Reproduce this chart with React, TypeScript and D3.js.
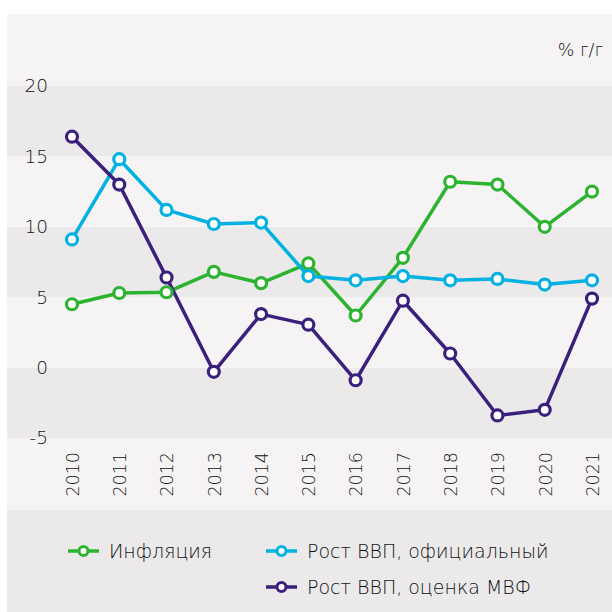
import { useEffect, useRef } from "react";
import * as d3 from "d3";

const years = ["2010", "2011", "2012", "2013", "2014", "2015", "2016", "2017", "2018", "2019", "2020", "2021"];
const inflation = [4.5, 5.3, 5.35, 6.8, 6.0, 7.4, 3.7, 7.8, 13.2, 13.0, 10.0, 12.5];
const gdpOfficial = [9.1, 14.8, 11.2, 10.2, 10.3, 6.5, 6.2, 6.5, 6.2, 6.3, 5.9, 6.2];
const gdpImf = [16.4, 13.0, 6.4, -0.3, 3.8, 3.05, -0.9, 4.75, 1.0, -3.4, -3.0, 4.9];
const yTicks = [-5, 0, 5, 10, 15, 20];

const series = [
  { name: "Инфляция", values: inflation, color: "#2cb431" },
  { name: "Рост ВВП, официальный", values: gdpOfficial, color: "#00b1e2" },
  { name: "Рост ВВП, оценка МВФ", values: gdpImf, color: "#3b1f7c" },
];

const font = "'DejaVu Sans', sans-serif";
const textColor = "#111111";
const weight = 200;

export default function App() {
  const ref = useRef<SVGSVGElement | null>(null);

  useEffect(() => {
    if (!ref.current) return;
    const svg = d3.select(ref.current);
    svg.selectAll("*").remove();

    const left = 7;
    const right = 612;
    const top = 14;

    const x = d3.scalePoint<string>().domain(years).range([72, 592]);
    const y = d3.scaleLinear().domain([-5, 20]).range([438, 86]);

    const light = "#f5f3f4";
    const dark = "#ebe9ea";

    // фон
    svg.append("rect").attr("x", left).attr("y", top).attr("width", right - left)
      .attr("height", y(20) - top).attr("fill", light);
    for (let i = 0; i < yTicks.length - 1; i++) {
      const lo = yTicks[i], hi = yTicks[i + 1];
      svg.append("rect").attr("x", left).attr("y", y(hi)).attr("width", right - left)
        .attr("height", y(lo) - y(hi)).attr("fill", i % 2 === 0 ? dark : light);
    }
    svg.append("rect").attr("x", left).attr("y", y(-5)).attr("width", right - left)
      .attr("height", 510 - y(-5)).attr("fill", light);
    svg.append("rect").attr("x", left).attr("y", 510).attr("width", right - left)
      .attr("height", 612 - 510).attr("fill", dark);

    // ось Y
    const yAxis = svg.append("g").attr("transform", "translate(48,0)")
      .call(d3.axisLeft(y).tickValues(yTicks).tickSize(0).tickPadding(0).tickFormat(d => String(d)));
    yAxis.select(".domain").remove();
    yAxis.selectAll("text").attr("font-family", font).attr("font-size", 18.5)
      .attr("font-weight", weight).attr("fill", textColor);

    // ось X
    const xAxis = svg.append("g").attr("transform", `translate(0,${y(-5)})`)
      .call(d3.axisBottom(x).tickSize(0));
    xAxis.select(".domain").remove();
    xAxis.selectAll("text")
      .attr("transform", "rotate(-90)")
      .attr("text-anchor", "end")
      .attr("x", -14)
      .attr("y", 0)
      .attr("dy", "0.36em")
      .attr("font-family", font).attr("font-size", 17.5)
      .attr("font-weight", weight)
      .attr("fill", textColor);

    svg.append("text").attr("x", 603).attr("y", 56).attr("text-anchor", "end")
      .attr("font-family", font).attr("font-size", 17.5).attr("font-weight", weight)
      .attr("fill", textColor).text("% г/г");

    // линии
    const line = d3.line<number>().x((_, i) => x(years[i])!).y(d => y(d));
    series.forEach(s => {
      svg.append("path").datum(s.values).attr("fill", "none").attr("stroke", s.color)
        .attr("stroke-width", 3.5).attr("stroke-linejoin", "round").attr("d", line);
    });
    series.forEach(s => {
      svg.append("g").selectAll("circle").data(s.values).join("circle")
        .attr("cx", (_, i) => x(years[i])!).attr("cy", d => y(d)).attr("r", 5.5)
        .attr("fill", "white").attr("stroke", s.color).attr("stroke-width", 3.2);
    });

    // легенда
    const legendPos = [
      { x: 68, y: 551 },
      { x: 266, y: 551 },
      { x: 266, y: 587 },
    ];
    series.forEach((s, i) => {
      const p = legendPos[i];
      const g = svg.append("g").attr("transform", `translate(${p.x},${p.y})`);
      g.append("line").attr("x1", 0).attr("x2", 31).attr("y1", 0).attr("y2", 0)
        .attr("stroke", s.color).attr("stroke-width", 3.5);
      g.append("circle").attr("cx", 15.5).attr("cy", 0).attr("r", 4.5)
        .attr("fill", "white").attr("stroke", s.color).attr("stroke-width", 3);
      g.append("text").attr("x", 41).attr("y", 0).attr("dy", "0.36em")
        .attr("font-family", font).attr("font-size", 19)
        .attr("font-weight", weight)
        .attr("fill", textColor).text(s.name);
    });
  }, []);

  return (
    <svg ref={ref} width={612} height={612}
      style={{ position: "absolute", left: 0, top: 0, display: "block" }} />
  );
}
